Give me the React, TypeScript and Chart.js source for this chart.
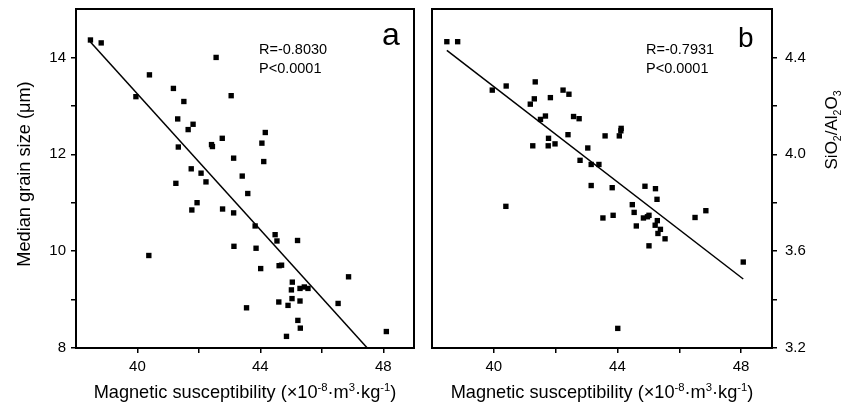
import React, { useEffect, useRef } from 'react';
import { Chart, registerables } from 'chart.js';
Chart.register(...registerables);

// ---------- data ----------
const aX = [38.47, 38.82, 40.39, 39.95, 41.17, 41.51, 42.56, 43.05, 41.31, 41.81, 41.65, 41.33, 42.41, 42.44, 42.76, 44.16, 44.05, 44.11, 43.13, 43.41, 41.75, 42.07, 41.25, 42.23, 43.59, 41.94, 41.77, 42.77, 43.13, 43.83, 44.48, 44.54, 45.21, 43.14, 43.86, 40.37, 44.01, 44.61, 44.69, 46.87, 45.04, 45.01, 45.29, 45.43, 45.55, 45.03, 45.29, 44.60, 44.90, 46.53, 43.55, 45.22, 45.30, 44.85, 48.10];
const aY = [14.36, 14.30, 13.64, 13.19, 13.36, 13.09, 14.00, 13.21, 12.73, 12.62, 12.51, 12.15, 12.20, 12.16, 12.33, 12.45, 12.23, 11.85, 11.92, 11.55, 11.70, 11.61, 11.40, 11.43, 11.19, 11.00, 10.85, 10.87, 10.79, 10.52, 10.34, 10.21, 10.22, 10.10, 10.06, 9.91, 9.64, 9.70, 9.71, 9.47, 9.36, 9.20, 9.23, 9.26, 9.23, 9.02, 8.97, 8.95, 8.88, 8.92, 8.83, 8.57, 8.41, 8.24, 8.34];
const fitAX = [38.47, 47.48];
const fitAY = [14.32, 8.0];

const bX = [38.48, 38.83, 39.95, 40.40, 41.34, 41.31, 41.18, 41.83, 42.24, 42.43, 41.67, 41.51, 42.58, 42.76, 41.77, 42.40, 43.60, 44.06, 44.11, 44.12, 41.26, 41.76, 41.98, 43.04, 42.79, 43.15, 43.40, 43.15, 43.83, 44.89, 45.23, 45.28, 40.39, 44.48, 44.54, 43.53, 43.86, 44.84, 45.02, 45.29, 45.22, 44.61, 45.39, 45.31, 45.54, 45.02, 46.51, 46.86, 48.07, 44.01, 44.97];
const bY = [4.465, 4.465, 4.265, 4.282, 4.299, 4.229, 4.207, 4.234, 4.265, 4.248, 4.158, 4.144, 4.156, 4.147, 4.066, 4.081, 4.076, 4.076, 4.097, 4.107, 4.035, 4.035, 4.043, 4.026, 3.975, 3.958, 3.958, 3.871, 3.862, 3.868, 3.858, 3.814, 3.785, 3.792, 3.760, 3.737, 3.748, 3.737, 3.748, 3.726, 3.707, 3.704, 3.690, 3.673, 3.651, 3.622, 3.739, 3.767, 3.555, 3.281, 3.742];
const fitBX = [38.48, 48.07];
const fitBY = [4.429, 3.485];

const xTickAll = [40, 42, 44, 46, 48];
const xTickLabels = [40, 44, 48];
const yTickAllA = [8, 9, 10, 11, 12, 13, 14];
const yTickLabelsA = [8, 10, 12, 14];
const yTickAllB = [3.2, 3.4, 3.6, 3.8, 4.0, 4.2, 4.4];
const yTickLabelsB = [3.2, 3.6, 4.0, 4.4];

const statA = ['R=-0.8030', 'P<0.0001'];
const statB = ['R=-0.7931', 'P<0.0001'];

const FONT = '"Liberation Sans", Arial, Helvetica, sans-serif';

type Part = { t: string; s?: 'sup' | 'sub' };

const xTitleParts: Part[] = [
  { t: 'Magnetic susceptibility (×10' }, { t: '-8', s: 'sup' }, { t: '·m' }, { t: '3', s: 'sup' }, { t: '·kg' }, { t: '-1', s: 'sup' }, { t: ')' },
];
const yTitleAParts: Part[] = [{ t: 'Median grain size (μm)' }];
const yTitleBParts: Part[] = [
  { t: 'SiO' }, { t: '2', s: 'sub' }, { t: '/Al' }, { t: '2', s: 'sub' }, { t: 'O' }, { t: '3', s: 'sub' },
];

function drawRich(ctx: CanvasRenderingContext2D, parts: Part[], cx: number, cy: number, size: number, rotate: boolean) {
  ctx.save();
  ctx.translate(cx, cy);
  if (rotate) ctx.rotate(-Math.PI / 2);
  const small = size * 0.62;
  let w = 0;
  const ws = parts.map((p) => {
    ctx.font = `${p.s ? small : size}px ${FONT}`;
    const m = ctx.measureText(p.t).width;
    w += m;
    return m;
  });
  let x = -w / 2;
  ctx.fillStyle = '#000';
  ctx.textAlign = 'left';
  ctx.textBaseline = 'alphabetic';
  parts.forEach((p, i) => {
    ctx.font = `${p.s ? small : size}px ${FONT}`;
    const dy = p.s === 'sup' ? -size * 0.36 : p.s === 'sub' ? size * 0.22 : 0;
    ctx.fillText(p.t, x, size * 0.36 + dy);
    x += ws[i];
  });
  ctx.restore();
}

function makeDeco(opts: { yTitle: Part[]; yTitleX: number; yTitleY: number; yTitleSize: number; letter: string; letterX: number; letterY: number; letterSize: number; stat: string[]; statX: number }) {
  return {
    id: 'deco',
    afterDraw(chart: any) {
      const ctx: CanvasRenderingContext2D = chart.ctx;
      const ca = chart.chartArea;
      ctx.save();
      ctx.strokeStyle = '#000';
      ctx.lineWidth = 2;
      ctx.strokeRect(ca.left, ca.top, ca.right - ca.left, ca.bottom - ca.top);
      ctx.restore();
      drawRich(ctx, xTitleParts, (ca.left + ca.right) / 2, 391, 18.2, false);
      drawRich(ctx, opts.yTitle, opts.yTitleX, opts.yTitleY, opts.yTitleSize, true);
      ctx.save();
      ctx.fillStyle = '#000';
      ctx.textAlign = 'left';
      ctx.textBaseline = 'middle';
      ctx.font = `14.5px ${FONT}`;
      ctx.fillText(opts.stat[0], opts.statX, 50);
      ctx.fillText(opts.stat[1], opts.statX, 68.5);
      ctx.textBaseline = 'alphabetic';
      ctx.font = `${opts.letterSize}px ${FONT}`;
      ctx.fillText(opts.letter, opts.letterX, opts.letterY);
      ctx.restore();
    },
  };
}

const near = (arr: number[], v: number) => arr.some((a) => Math.abs(a - v) < 1e-6);

const tickGrid = { display: true, drawOnChartArea: false, drawTicks: true, tickLength: 5, color: '#000', lineWidth: 1.5 };
const axisBorder = { display: true, color: '#000', width: 2 };

function xScale() {
  return {
    type: 'linear',
    min: 38,
    max: 49,
    afterBuildTicks: (s: any) => { s.ticks = xTickAll.map((v) => ({ value: v })); },
    ticks: {
      callback: (v: any) => (near(xTickLabels, Number(v)) ? String(v) : ''),
      font: { family: FONT, size: 15 },
      color: '#000',
      padding: 5,
      maxRotation: 0,
      autoSkip: false,
    },
    grid: tickGrid,
    border: axisBorder,
    afterFit: (s: any) => { s.height = 64; s.paddingLeft = 0; s.paddingRight = 0; },
  };
}

export default function App() {
  const refA = useRef<HTMLCanvasElement>(null);
  const refB = useRef<HTMLCanvasElement>(null);

  useEffect(() => {
    const common = {
      responsive: false,
      animation: false as const,
      devicePixelRatio: 1,
      plugins: { legend: { display: false }, tooltip: { enabled: false } },
    };
    const chartA = new Chart(refA.current!, {
      type: 'scatter',
      data: {
        datasets: [
          { data: aX.map((x, i) => ({ x, y: aY[i] })), pointStyle: 'rect', pointRadius: 3.8, backgroundColor: '#000', borderWidth: 0 },
          { data: fitAX.map((x, i) => ({ x, y: fitAY[i] })), showLine: true, pointRadius: 0, borderColor: '#000', borderWidth: 1.5 },
        ],
      },
      options: {
        ...common,
        layout: { padding: { left: 0, top: 9, right: 11, bottom: 0 } },
        scales: {
          x: xScale() as any,
          y: {
            type: 'linear',
            min: 8,
            max: 15,
            afterBuildTicks: (s: any) => { s.ticks = yTickAllA.map((v) => ({ value: v })); },
            ticks: {
              callback: (v: any) => (near(yTickLabelsA, Number(v)) ? String(v) : ''),
              font: { family: FONT, size: 15 },
              color: '#000',
              padding: 5,
              autoSkip: false,
            },
            grid: tickGrid,
            border: axisBorder,
            afterFit: (s: any) => { s.width = 76; s.paddingTop = 0; s.paddingBottom = 0; },
          } as any,
        },
      },
      plugins: [makeDeco({ yTitle: yTitleAParts, yTitleX: 23, yTitleY: 174, yTitleSize: 18.2, letter: 'a', letterX: 382, letterY: 45, letterSize: 32, stat: statA, statX: 259 })],
    });

    const chartB = new Chart(refB.current!, {
      type: 'scatter',
      data: {
        datasets: [
          { data: bX.map((x, i) => ({ x, y: bY[i] })), pointStyle: 'rect', pointRadius: 3.8, backgroundColor: '#000', borderWidth: 0 },
          { data: fitBX.map((x, i) => ({ x, y: fitBY[i] })), showLine: true, pointRadius: 0, borderColor: '#000', borderWidth: 1.5 },
        ],
      },
      options: {
        ...common,
        layout: { padding: { left: 7, top: 9, right: 0, bottom: 0 } },
        scales: {
          x: xScale() as any,
          y: {
            type: 'linear',
            position: 'right',
            min: 3.2,
            max: 4.6,
            afterBuildTicks: (s: any) => { s.ticks = yTickAllB.map((v) => ({ value: v })); },
            ticks: {
              callback: (v: any) => (near(yTickLabelsB, Number(v)) ? Number(v).toFixed(1) : ''),
              font: { family: FONT, size: 15 },
              color: '#000',
              padding: 8,
              autoSkip: false,
            },
            grid: tickGrid,
            border: axisBorder,
            afterFit: (s: any) => { s.width = 73; s.paddingTop = 0; s.paddingBottom = 0; },
          } as any,
        },
      },
      plugins: [makeDeco({ yTitle: yTitleBParts, yTitleX: 406, yTitleY: 130, yTitleSize: 17, letter: 'b', letterX: 313, letterY: 47, letterSize: 28, stat: statB, statX: 221 })],
    });

    return () => { chartA.destroy(); chartB.destroy(); };
  }, []);

  return (
    <div style={{ position: 'fixed', left: 0, top: 0, width: 845, height: 412, background: '#fff' }}>
      <canvas ref={refA} width={425} height={412} style={{ position: 'absolute', left: 0, top: 0, width: 425, height: 412 }} />
      <canvas ref={refB} width={420} height={412} style={{ position: 'absolute', left: 425, top: 0, width: 420, height: 412 }} />
    </div>
  );
}
